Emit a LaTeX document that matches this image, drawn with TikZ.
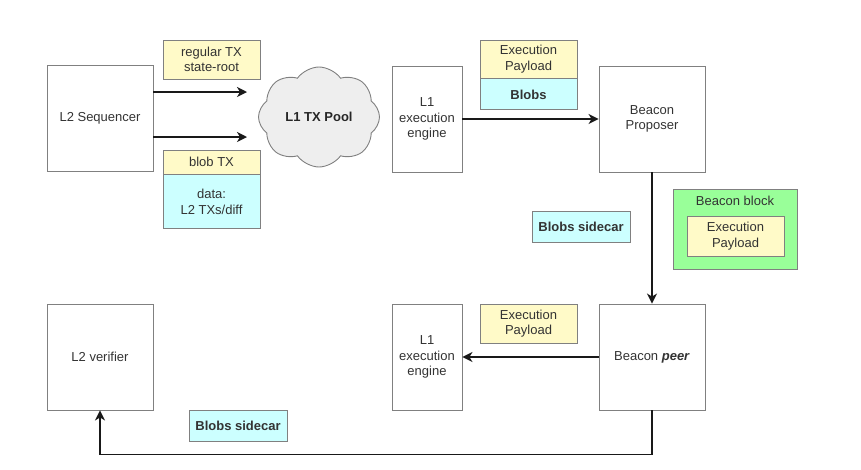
\documentclass[tikz,border=0pt]{standalone}
\usepackage{fontspec}
\setmainfont{Liberation Sans}
\usetikzlibrary{shapes.symbols,arrows.meta}
\definecolor{payloadyellow}{RGB}{255,250,200}
\definecolor{blobcyan}{RGB}{204,255,255}
\definecolor{blockgreen}{RGB}{153,255,153}
\definecolor{poolgray}{RGB}{238,238,238}

\begin{document}
\begin{tikzpicture}[x=1pt, y=-1pt,
		box/.style={rectangle, draw=black!50, line width=0.9pt, inner sep=0pt, align=center, text=black!80, font=\fontsize{13}{15.5}\selectfont},
		comp/.style={box, fill=white, minimum width=106pt, minimum height=106pt},
		engine/.style={box, fill=white, minimum width=70pt, minimum height=106pt},
		payload/.style={box, fill=payloadyellow, minimum width=97pt},
		blob/.style={box, fill=blobcyan, minimum width=97pt},
		bfbox/.style={font=\fontsize{13}{15.5}\selectfont\bfseries},
		arrow/.style={-{Stealth[length=10pt,width=10pt,inset=3pt]}, line width=1.5pt, black!90}
	]
	\useasboundingbox (0,0) rectangle (861,469);

	% Sequencer and TX pool
	\node[comp] (seq) at (100,118.5) {L2 Sequencer};
	\node[payload, minimum height=39pt] (regtx) at (211.5,59.5) {regular TX\\state-root};
	\node[payload, minimum height=24pt] (blobtx) at (211.5,162) {blob TX};
	\node[blob, minimum height=54pt, anchor=north] (blobdata) at (blobtx.south) {data:\\L2 TXs/diff};
	\node[cloud, cloud puffs=8, cloud puff arc=110, aspect=1.2, draw=black!50, line width=0.9pt, fill=poolgray, minimum width=121pt, minimum height=100pt, inner sep=0pt, text=black!85, bfbox] (pool) at (319,117) {L1 TX Pool};
	\coordinate (pin1) at (247,92);
	\coordinate (pin2) at (247,137);

	% Proposer side
	\node[engine] (eng1) at (427,119) {L1\\execution\\engine};
	\node[payload, minimum height=38pt] (ep1) at (528.5,59) {Execution\\Payload};
	\node[blob, bfbox, minimum height=31pt, anchor=north] (blobs1) at (ep1.south) {Blobs};
	\node[comp] (prop) at (652,119) {Beacon\\Proposer};

	% Beacon block
	\node[box, fill=blockgreen, minimum width=124pt, minimum height=80pt] (bblock) at (735,229) {};
	\node[box, draw=none] (bblocklbl) at (735,201) {Beacon block};
	\node[payload, minimum height=40pt] (ep3) at (735.5,236) {Execution\\Payload};
	\node[blob, bfbox, minimum width=98pt, minimum height=31pt] (side1) at (581,226.5) {Blobs sidecar};

	% Peer side
	\node[comp] (ver) at (100,357) {L2 verifier};
	\node[engine] (eng2) at (427,357) {L1\\execution\\engine};
	\node[payload, minimum height=39pt] (ep2) at (528.5,323.5) {Execution\\Payload};
	\node[comp] (peer) at (652,357) {Beacon \textbf{\textit{peer}}};
	\node[blob, bfbox, minimum width=98pt, minimum height=31pt] (side2) at (238,425.5) {Blobs sidecar};

	% Arrows
	\draw[arrow] (seq.east |- pin1) -- (pin1);
	\draw[arrow] (seq.east |- pin2) -- (pin2);
	\draw[arrow] (eng1) -- (prop);
	\draw[arrow] (prop) -- (peer);
	\draw[arrow] (peer) -- (eng2);
	\draw[arrow] (peer.south) -- ++(0,44) -| (ver.south);

\end{tikzpicture}
\end{document}
